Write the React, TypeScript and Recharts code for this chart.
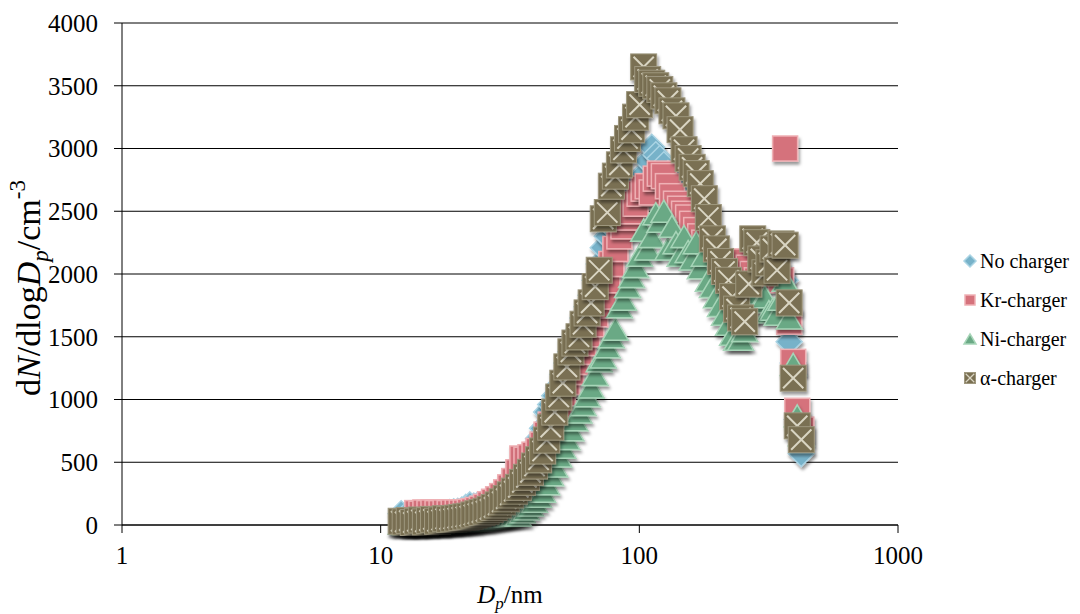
import React from "react";
import {
  ScatterChart,
  Scatter,
  XAxis,
  YAxis,
  CartesianGrid,
  Label,
} from "recharts";

// mobility diameter channels (nm)
const diameters = [
  12.0, 12.44, 12.9, 13.37, 13.86, 14.37, 14.89, 15.44, 16.0, 16.59,
  17.2, 17.83, 18.48, 19.16, 19.86, 20.59, 21.34, 22.12, 22.93, 23.77,
  24.64, 25.55, 26.48, 27.45, 28.46, 29.5, 30.58, 31.7, 32.86, 34.07,
  35.31, 36.61, 37.95, 39.34, 40.78, 42.27, 43.82, 45.43, 47.09, 48.82,
  50.61, 52.46, 54.38, 56.37, 58.44, 60.58, 62.8, 65.1, 67.49, 69.96,
  72.52, 75.18, 77.93, 80.79, 83.75, 86.81, 90.0, 93.29, 96.71, 100.26,
  103.93, 107.74, 111.68, 115.78, 120.02, 124.4, 129.0, 133.7, 138.6, 143.7,
  148.9, 154.4, 160.0, 165.9, 172.0, 178.3, 184.8, 191.6, 198.6, 205.9,
  213.4, 221.2, 229.3, 237.7, 246.4, 255.5, 264.8, 274.5, 284.6, 295.0,
  305.8, 317.0, 328.6, 340.7, 353.1, 366.1, 379.5, 393.4, 407.8, 422.7,
];

const noCharger = [
  90, 70, 80, 60, 70, 80, 70, 90, 85, 80,
  90, 95, 100, 105, 110, 120, 140, 160, 150, 160,
  170, 185, 200, 215, 235, 255, 280, 310, 345, 385,
  430, 480, 540, 610, 690, 770, 900, 960, 1030, 1110,
  1200, 1290, 1380, 1470, 1560, 1650, 1740, 1830, 1950, 2080,
  2210, 2300, 2380, 2450, 2520, 2580, 2620, 2660, 2700, 2730,
  2800, 2900, 3010, 2950, 2920, 2870, 2800, 2750, 2700, 2640,
  2580, 2520, 2460, 2400, 2350, 2300, 2240, 2180, 2120, 2050,
  1980, 1920, 1860, 1820, 1850, 1900, 1950, 2000, 2050, 2080,
  2050, 2100, 2080, 2050, 2000, 1950, 1460, 1290, 840, 570,
];

const krCharger = [
  null, null, null, null, 95, 90, 100, 95, 100, 95,
  95, 100, 95, 100, 100, 100, 100, 105, 110, 120,
  130, 145, 165, 185, 205, 230, 260, 300, 350, 420,
  530, 520, 540, 560, 590, 640, 720, 800, 880, 960,
  1050, 1140, 1220, 1300, 1380, 1450, 1520, 1600, 1680, 1750,
  1820, 1950, 2080, 2200, 2300, 2380, 2450, 2500, 2560, 2640,
  2680, 2700, 2650, 2760, 2800, 2780, 2700, 2620, 2560, 2520,
  2480, 2450, 2400, 2350, 2300, 2250, 2200, 2150, 2050, 1980,
  1900, 1850, 1800, 1850, 2050, 2100, 2050, 2000, 1950, 1980,
  2050, 2000, 2050, 1980, 1950, 3000, 1620, 1300, 910, 760,
];

const niCharger = [
  15, 10, 20, 15, 10, 20, 15, 25, 20, 15,
  20, 25, 20, 30, 25, 30, 35, 30, 40, 45,
  45, 50, 55, 60, 65, 70, 75, 80, 85, 80,
  105, 130, 160, 190, 230, 270, 330, 400, 470, 550,
  620, 690, 760, 840, 900, 960, 1030, 1100, 1200, 1310,
  1340, 1420, 1500, 1560, 1740, 1800, 1900, 1980, 2060, 2150,
  2350, 2200, 2300, 2480, 2420, 2500, 2200, 2380, 2250, 2150,
  2300, 2180, 2120, 2250, 2050, 2150, 1950, 1900, 1820, 1750,
  1680, 1600, 1520, 1480, 1480, 1550, 1700, 1800, 1850, 1780,
  1820, 1700, 1720, 1680, 1800, 1950, 1650, 1280, 870, 720,
];

const alphaCharger = [
  30, 25, 35, 20, 30, 40, 25, 35, 45, 30,
  40, 50, 45, 50, 55, 60, 65, 70, 80, 90,
  100, 110, 125, 140, 160, 185, 210, 240, 270, 300,
  340, 380, 420, 470, 520, 590, 677, 780, 900, 1020,
  1130, 1260, 1380, 1450, 1500, 1600, 1690, 1770, 1900, 2030,
  2440, 2490, 2700, 2780, 2870, 2990, 3080, 3150, 3250, 3350,
  3650, 3550, 3520, 3500, 3470, 3420, 3380, 3300, 3260, 3150,
  2990, 2920, 2850, 2800, 2720, 2600, 2450, 2280, 2200, 2100,
  2020, 1950, 1820, 1720, 1650, 1620, 1920, 2280, 2250, 2120,
  2010, 2090, 2200, 2030, 2240, 2230, 1770, 1170, 790, 680,
];

const xTicks = [1, 10, 100, 1000];
const yTicks = [0, 500, 1000, 1500, 2000, 2500, 3000, 3500, 4000];

const FONT = "'Liberation Serif', 'Times New Roman', serif";

const toPoints = (values: (number | null)[]) =>
  diameters
    .map((d, i) => ({ d, v: values[i] }))
    .filter((p) => p.v !== null);

function DiamondMark({ cx, cy, r = 13, shadow = true }: any) {
  return (
    <polygon
      points={`${cx},${cy - r} ${cx + r},${cy} ${cx},${cy + r} ${cx - r},${cy}`}
      fill="#77b2c9"
      stroke="#aad4e4"
      strokeWidth={1.5}
      filter={shadow ? "url(#markShadow)" : undefined}
    />
  );
}

function SquareMark({ cx, cy, r = 12.5, shadow = true }: any) {
  return (
    <rect
      x={cx - r}
      y={cy - r}
      width={r * 2}
      height={r * 2}
      fill="#d5727c"
      stroke="#efb1b5"
      strokeWidth={1.5}
      filter={shadow ? "url(#markShadow)" : undefined}
    />
  );
}

function TriangleMark({ cx, cy, r = 13, shadow = true }: any) {
  const h = r * 0.85;
  return (
    <polygon
      points={`${cx},${cy - h} ${cx + r},${cy + h} ${cx - r},${cy + h}`}
      fill="#6aa985"
      stroke="#a7d5b8"
      strokeWidth={1.5}
      filter={shadow ? "url(#markShadow)" : undefined}
    />
  );
}

function CrossMark({ cx, cy, r = 13, shadow = true }: any) {
  const k = r * 0.78;
  return (
    <g filter={shadow ? "url(#markShadow)" : undefined}>
      <rect
        x={cx - r}
        y={cy - r}
        width={r * 2}
        height={r * 2}
        fill="#7a7052"
        stroke="#9e977e"
        strokeWidth={1}
      />
      <line x1={cx - k} y1={cy - k} x2={cx + k} y2={cy + k} stroke="#d9d5c3" strokeWidth={r > 8 ? 2 : 1.2} />
      <line x1={cx + k} y1={cy - k} x2={cx - k} y2={cy + k} stroke="#d9d5c3" strokeWidth={r > 8 ? 2 : 1.2} />
    </g>
  );
}

const legendItems = [
  { name: "No charger", Icon: DiamondMark, r: 6 },
  { name: "Kr-charger", Icon: SquareMark, r: 5 },
  { name: "Ni-charger", Icon: TriangleMark, r: 6 },
  { name: "\u03b1-charger", Icon: CrossMark, r: 5.5 },
];

// legend block drawn inside the chart surface, to the right of the plot
function ChartLegend() {
  const left = 970;
  const top = 261;
  return (
    <g className="chart-legend">
      {legendItems.map(({ name, Icon, r }, i) => (
        <g key={name}>
          <Icon cx={left} cy={top + i * 39} r={r} shadow={false} />
          <text
            x={left + 10}
            y={top + i * 39}
            dy="0.35em"
            fontFamily={FONT}
            fontSize={20}
            fill="#000"
          >
            {name}
          </text>
        </g>
      ))}
    </g>
  );
}

const XTitle = ({ viewBox }: any) => {
  const x = viewBox.x + viewBox.width / 2;
  const y = viewBox.y + 78;
  return (
    <text x={x} y={y} textAnchor="middle" fontFamily={FONT} fontSize={25} fill="#000">
      <tspan fontStyle="italic">D</tspan>
      <tspan fontStyle="italic" fontSize={17} dy={6}>p</tspan>
      <tspan dy={-6}>/nm</tspan>
    </text>
  );
};

const YTitle = ({ viewBox }: any) => {
  const x = 40;
  const y = viewBox.y + viewBox.height / 2 + 14;
  return (
    <text
      x={x}
      y={y}
      transform={`rotate(-90, ${x}, ${y})`}
      textAnchor="middle"
      fontFamily={FONT}
      fontSize={34}
      fill="#000"
    >
      d<tspan fontStyle="italic">N</tspan>/dlog<tspan fontStyle="italic">D</tspan>
      <tspan fontStyle="italic" fontSize={23} dy={8}>p</tspan>
      <tspan dy={-8}>/cm</tspan>
      <tspan fontSize={23} dy={-15}>-3</tspan>
    </text>
  );
};

const tickStyle = { fill: "#000", fontSize: 25, fontFamily: FONT };

export default function App() {
  return (
    <div
      style={{
        position: "absolute",
        left: 0,
        top: 0,
        width: 1080,
        height: 614,
        background: "#fff",
      }}
    >
      <ScatterChart
        width={1080}
        height={614}
        margin={{ top: 23, right: 182, bottom: 0, left: 0 }}
      >
        <defs>
          <filter id="markShadow" x="-50%" y="-50%" width="200%" height="200%">
            <feDropShadow dx="1.5" dy="3" stdDeviation="1.8" floodColor="#000" floodOpacity="0.4" />
          </filter>
        </defs>
        <CartesianGrid vertical={false} stroke="#000" strokeWidth={1} />
        <XAxis
          type="number"
          dataKey="d"
          scale="log"
          domain={[1, 1000]}
          ticks={xTicks}
          interval={0}
          height={89}
          axisLine={{ stroke: "#000" }}
          tickLine={{ stroke: "#000" }}
          tickSize={8}
          tickMargin={13}
          tick={tickStyle}
        >
          <Label content={XTitle} />
        </XAxis>
        <YAxis
          type="number"
          dataKey="v"
          domain={[0, 4000]}
          ticks={yTicks}
          interval={0}
          width={122}
          axisLine={{ stroke: "#000" }}
          tickLine={{ stroke: "#000" }}
          tickSize={8}
          tickMargin={16}
          tick={tickStyle}
        >
          <Label content={YTitle} />
        </YAxis>
        <Scatter
          name="No charger"
          data={toPoints(noCharger)}
          shape={(p: any) => <DiamondMark cx={p.cx} cy={p.cy} />}
          isAnimationActive={false}
        />
        <Scatter
          name="Kr-charger"
          data={toPoints(krCharger)}
          shape={(p: any) => <SquareMark cx={p.cx} cy={p.cy} />}
          isAnimationActive={false}
        />
        <Scatter
          name="Ni-charger"
          data={toPoints(niCharger)}
          shape={(p: any) => <TriangleMark cx={p.cx} cy={p.cy} />}
          isAnimationActive={false}
        />
        <Scatter
          name={"\u03b1-charger"}
          data={toPoints(alphaCharger)}
          shape={(p: any) => <CrossMark cx={p.cx} cy={p.cy} />}
          isAnimationActive={false}
        />
        <ChartLegend />
      </ScatterChart>
    </div>
  );
}
